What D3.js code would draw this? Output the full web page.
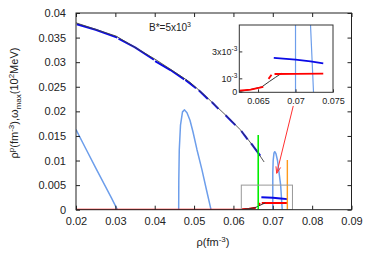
<!DOCTYPE html>
<html>
<head>
<meta charset="utf-8">
<script src="https://cdn.jsdelivr.net/npm/d3@7"></script>
<style>
  body { margin: 0; background: #fff; }
  svg text { font-family: "Liberation Sans", Arial, sans-serif; fill: #222; }
</style>
</head>
<body>
<div class="graph"></div>
<script>
// ---- values ----
var xTicks = [0.02, 0.03, 0.04, 0.05, 0.06, 0.07, 0.08, 0.09];
var xTickLabels = ["0.02", "0.03", "0.04", "0.05", "0.06", "0.07", "0.08", "0.09"];
var yTicks = [0, 0.005, 0.01, 0.015, 0.02, 0.025, 0.03, 0.035, 0.04];
var yTickLabels = ["0", "0.005", "0.01", "0.015", "0.02", "0.025", "0.03", "0.035", "0.04"];

// thin dark curve (upper branch)
var darkCurve = [[0.0200, 0.0380], [0.0302, 0.0353], [0.0403, 0.0305], [0.0464, 0.0273],
  [0.0490, 0.0259], [0.0528, 0.0232], [0.0586, 0.0188], [0.0617, 0.0163],
  [0.0637, 0.0143], [0.0657, 0.0122], [0.0678, 0.0097]];

// thick blue pieces lying on the dark curve
var blueSegs = [
  [[0.0202, 0.0377], [0.0250, 0.0366], [0.0305, 0.0350]],
  [[0.0308, 0.0348], [0.0350, 0.0330], [0.0398, 0.0305]],
  [[0.0401, 0.0302], [0.0440, 0.0284], [0.0475, 0.0265]],
  [[0.0478, 0.0264], [0.0505, 0.0247]],
  [[0.0512, 0.0243], [0.0535, 0.0225]],
  [[0.0545, 0.0219], [0.0562, 0.0205]],
  [[0.0580, 0.0192], [0.0605, 0.0172]],
  [[0.0620, 0.0160], [0.0636, 0.0143]],
  [[0.0645, 0.0135], [0.0668, 0.0110]]
];

// light blue curves
var lightA = [[0.0200, 0.0163], [0.0225, 0.0124], [0.0250, 0.0085], [0.0275, 0.0047],
  [0.0290, 0.0024], [0.0305, 0.0000]];
var lightB = [[0.04609, 0], [0.04612, 0.0060], [0.04624, 0.0122], [0.04655, 0.0172],
  [0.04706, 0.0199], [0.04757, 0.0203], [0.0482, 0.0197], [0.04896, 0.0182],
  [0.04973, 0.0158], [0.05074, 0.0122], [0.05201, 0.0081], [0.05316, 0.0040], [0.0543, 0]];
var lightC = [[0.0700, 0], [0.0700, 0.0045], [0.0700, 0.0075], [0.0701, 0.0100],
  [0.0703, 0.0115], [0.0705, 0.0118], [0.0708, 0.0114], [0.0712, 0.0100],
  [0.0716, 0.0075], [0.0720, 0.0050], [0.0724, 0]];

// red: zero branch, rising piece, plateau
var redZero = [[0.0200, 0], [0.0622, 0]];
var redRise = [[0.0622, 0.0001], [0.0640, 0.0002], [0.0657, 0.0004]];
var redStep = [[0.0664, 0.0010], [0.0668, 0.0013]];
var redFlat = [[0.0672, 0.00136], [0.0700, 0.00137], [0.0737, 0.00138]];

// dark curve (lower branch) and blue lower branch
var darkLow = [[0.0622, 0.00005], [0.0640, 0.0002], [0.0655, 0.0004], [0.0665, 0.0008],
  [0.0673, 0.0011], [0.0681, 0.0014]];
var blueLow = [[0.0671, 0.00255], [0.0700, 0.00242], [0.0720, 0.00229], [0.0737, 0.00215]];

var greenLine = [[0.0663, 0], [0.0663, 0.0152]];
var orangeLine = [[0.0737, 0], [0.0737, 0.0101]];
var zoomBox = [[0.062, 0], [0.075, 0.005]];
var arrowFrom = [0.0752, 0.0211], arrowTo = [0.0710, 0.0074];

var insetXTicks = [0.065, 0.07, 0.075];
var insetXLabels = ["0.065", "0.07", "0.075"];
var insetYTicks = [0, 0.001, 0.003];
var insetYLabels = [["0"], ["10", "-3"], ["3x10", "-3"]];

// ---- drawing ----
var W = 374, H = 262;
var svg = d3.select(".graph").append("svg")
    .attr("width", W).attr("height", H);
svg.append("rect").attr("width", W).attr("height", H).attr("fill", "#fff");

var x = d3.scaleLinear().domain([0.02, 0.09]).range([76, 351.5]);
var y = d3.scaleLinear().domain([0, 0.04]).range([209.7, 13]);

svg.append("clipPath").attr("id", "plotclip").append("rect")
    .attr("x", x(0.02)).attr("y", y(0.04))
    .attr("width", x(0.09) - x(0.02)).attr("height", y(0) - y(0.04));

var line = d3.line().x(function(d) { return x(d[0]); }).y(function(d) { return y(d[1]); });

var plot = svg.append("g").attr("clip-path", "url(#plotclip)");

function draw(g, lineFn, data, color, width) {
  g.append("path").datum(data)
    .attr("d", lineFn)
    .attr("fill", "none")
    .attr("stroke", color)
    .attr("stroke-width", width)
    .attr("stroke-linejoin", "round");
}

// main curves
draw(plot, line, lightA, "#6d9eeb", 1.5);
draw(plot, line, lightB, "#6d9eeb", 1.5);
draw(plot, line, lightC, "#6d9eeb", 1.5);
draw(plot, line, redZero, "#ff0000", 2);
draw(plot, line, redRise, "#ff0000", 2);
draw(plot, line, redStep, "#ff0000", 2);
draw(plot, line, redFlat, "#ff0000", 2);
draw(plot, line, darkLow, "#333", 1);
blueSegs.forEach(function(s) { draw(plot, line, s, "#0a0ae6", 2); });
draw(plot, line, darkCurve, "#444", 0.9);
draw(plot, line, blueLow, "#0a0ae6", 2);
draw(plot, line, greenLine, "#00ee00", 1.6);
draw(plot, line, orangeLine, "#ff9a1a", 1.4);

// zoom box
plot.append("rect")
    .attr("x", x(zoomBox[0][0])).attr("y", y(zoomBox[1][1]))
    .attr("width", x(zoomBox[1][0]) - x(zoomBox[0][0]))
    .attr("height", y(zoomBox[0][1]) - y(zoomBox[1][1]))
    .attr("fill", "none").attr("stroke", "#999").attr("stroke-width", 1);

// arrow from inset to the narrow peak
var ax0 = x(arrowFrom[0]), ay0 = y(arrowFrom[1]), ax1 = x(arrowTo[0]), ay1 = y(arrowTo[1]);
var ang = Math.atan2(ay1 - ay0, ax1 - ax0), hl = 7, ha = 0.35;
svg.append("path")
    .attr("d", "M" + ax0 + "," + ay0 + "L" + ax1 + "," + ay1 +
      "M" + (ax1 - hl * Math.cos(ang - ha)) + "," + (ay1 - hl * Math.sin(ang - ha)) +
      "L" + ax1 + "," + ay1 +
      "L" + (ax1 - hl * Math.cos(ang + ha)) + "," + (ay1 - hl * Math.sin(ang + ha)))
    .attr("fill", "none").attr("stroke", "#ff3030").attr("stroke-width", 1);

// frame and mirrored inward ticks
svg.append("rect")
    .attr("x", x(0.02)).attr("y", y(0.04))
    .attr("width", x(0.09) - x(0.02)).attr("height", y(0) - y(0.04))
    .attr("fill", "none").attr("stroke", "#222").attr("stroke-width", 1);

var tl = 4;
svg.append("g").attr("transform", "translate(0," + y(0) + ")")
    .call(d3.axisBottom(x).tickValues(xTicks).tickSizeInner(-tl).tickSizeOuter(0)
      .tickPadding(8).tickFormat(function(d, i) { return xTickLabels[i]; }))
    .call(function(g) {
      g.select(".domain").remove();
      g.selectAll("line").attr("stroke", "#222");
      g.selectAll("text").attr("font-size", 11).attr("fill", "#222");
    });
svg.append("g").attr("transform", "translate(0," + y(0.04) + ")")
    .call(d3.axisTop(x).tickValues(xTicks).tickSizeInner(-tl).tickSizeOuter(0).tickFormat(""))
    .call(function(g) { g.select(".domain").remove(); g.selectAll("line").attr("stroke", "#222"); });
svg.append("g").attr("transform", "translate(" + x(0.02) + ",0)")
    .call(d3.axisLeft(y).tickValues(yTicks).tickSizeInner(-tl).tickSizeOuter(0)
      .tickPadding(10).tickFormat(function(d, i) { return yTickLabels[i]; }))
    .call(function(g) {
      g.select(".domain").remove();
      g.selectAll("line").attr("stroke", "#222");
      g.selectAll("text").attr("font-size", 11).attr("fill", "#222");
    });
svg.append("g").attr("transform", "translate(" + x(0.09) + ",0)")
    .call(d3.axisRight(y).tickValues(yTicks).tickSizeInner(-tl).tickSizeOuter(0).tickFormat(""))
    .call(function(g) { g.select(".domain").remove(); g.selectAll("line").attr("stroke", "#222"); });

// axis titles
var xl = svg.append("text").attr("x", 213).attr("y", 246)
    .attr("text-anchor", "middle").attr("font-size", 11);
xl.append("tspan").text("\u03c1(fm");
xl.append("tspan").attr("dy", -4).attr("font-size", 8).text("-3");
xl.append("tspan").attr("dy", 4).text(")");

var yl = svg.append("text").attr("transform", "translate(17.5,103) rotate(-90)")
    .attr("text-anchor", "middle").attr("font-size", 11);
yl.append("tspan").text("\u03c1");
yl.append("tspan").attr("dy", -4).attr("font-size", 8).text("p");
yl.append("tspan").attr("dy", 4).text("(fm");
yl.append("tspan").attr("dy", -4).attr("font-size", 8).text("-3");
yl.append("tspan").attr("dy", 4).text("),\u03c9");
yl.append("tspan").attr("dy", 3).attr("font-size", 8).text("max");
yl.append("tspan").attr("dy", -3).text("(10");
yl.append("tspan").attr("dy", -4).attr("font-size", 8).text("2");
yl.append("tspan").attr("dy", 4).text("MeV)");

// annotation
var note = svg.append("text").attr("x", 149).attr("y", 31).attr("font-size", 10);
note.append("tspan").text("B*=5x10");
note.append("tspan").attr("dy", -4).attr("font-size", 7).text("3");

// ---- inset ----
var ix = d3.scaleLinear().domain([0.0625, 0.075]).range([239.3, 333]);
var iy = d3.scaleLinear().domain([0, 0.005]).range([92.3, 25]);
var iline = d3.line().x(function(d) { return ix(d[0]); }).y(function(d) { return iy(d[1]); });

svg.append("rect")
    .attr("x", ix(0.0625)).attr("y", iy(0.005))
    .attr("width", ix(0.075) - ix(0.0625)).attr("height", iy(0) - iy(0.005))
    .attr("fill", "#fff");
svg.append("clipPath").attr("id", "insetclip").append("rect")
    .attr("x", ix(0.0625)).attr("y", iy(0.005))
    .attr("width", ix(0.075) - ix(0.0625)).attr("height", iy(0) - iy(0.005));
var inset = svg.append("g").attr("clip-path", "url(#insetclip)");
draw(inset, iline, lightC, "#6d9eeb", 1.2);
draw(inset, iline, darkLow, "#333", 1);
draw(inset, iline, redRise, "#ff0000", 1.8);
draw(inset, iline, redStep, "#ff0000", 1.8);
draw(inset, iline, redFlat, "#ff0000", 1.8);
draw(inset, iline, blueLow, "#0a0ae6", 1.8);

svg.append("rect")
    .attr("x", ix(0.0625)).attr("y", iy(0.005))
    .attr("width", ix(0.075) - ix(0.0625)).attr("height", iy(0) - iy(0.005))
    .attr("fill", "none").attr("stroke", "#333").attr("stroke-width", 1);

svg.append("g").attr("transform", "translate(0," + iy(0) + ")")
    .call(d3.axisBottom(ix).tickValues(insetXTicks).tickSizeInner(-3).tickSizeOuter(0)
      .tickPadding(5).tickFormat(function(d, i) { return insetXLabels[i]; }))
    .call(function(g) {
      g.select(".domain").remove();
      g.selectAll("line").attr("stroke", "#333");
      g.selectAll("text").attr("font-size", 9).attr("fill", "#222");
    });

var iyl = svg.append("g");
iyl.selectAll("line").data(insetYTicks).enter().append("line")
    .attr("x1", ix(0.0625)).attr("x2", ix(0.0625) + 3)
    .attr("y1", function(d) { return iy(d); }).attr("y2", function(d) { return iy(d); })
    .attr("stroke", "#333");
insetYTicks.forEach(function(v, i) {
  var t = iyl.append("text").attr("x", ix(0.0625) - 2).attr("y", iy(v) + 3)
      .attr("text-anchor", "end").attr("font-size", 9);
  var parts = insetYLabels[i];
  t.append("tspan").text(parts[0]);
  if (parts[1]) t.append("tspan").attr("dy", -4).attr("font-size", 6.5).text(parts[1]);
});
</script>
</body>
</html>
